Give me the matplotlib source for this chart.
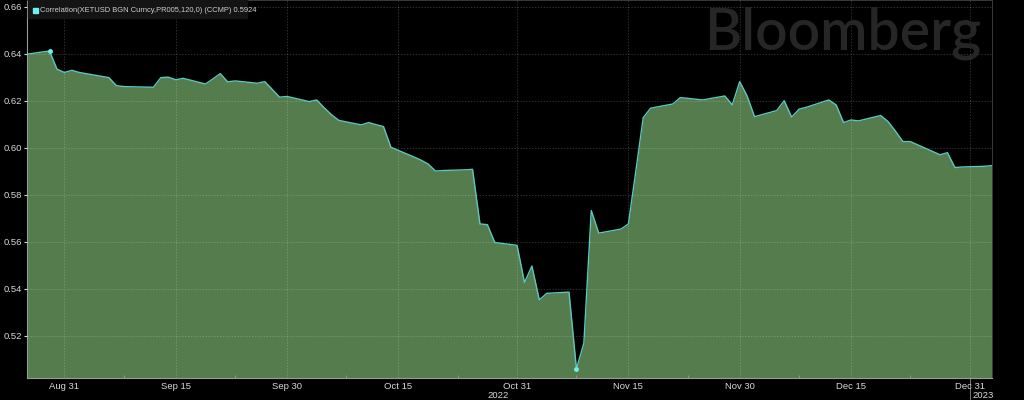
import matplotlib
matplotlib.use("Agg")
import matplotlib.pyplot as plt
import matplotlib.dates as mdates
import numpy as np
import pandas as pd

dates = ["2022-08-26","2022-08-29","2022-08-30","2022-08-31","2022-09-01","2022-09-02",
         "2022-09-06","2022-09-07","2022-09-08","2022-09-09","2022-09-12","2022-09-13",
         "2022-09-14","2022-09-15","2022-09-16","2022-09-19","2022-09-20","2022-09-21",
         "2022-09-22","2022-09-23","2022-09-26","2022-09-27","2022-09-28","2022-09-29",
         "2022-09-30","2022-10-03","2022-10-04","2022-10-05","2022-10-06","2022-10-07",
         "2022-10-10","2022-10-11","2022-10-12","2022-10-13","2022-10-14","2022-10-17",
         "2022-10-18","2022-10-19","2022-10-20","2022-10-21","2022-10-24","2022-10-25",
         "2022-10-26","2022-10-27","2022-10-28","2022-10-31","2022-11-01","2022-11-02",
         "2022-11-03","2022-11-04","2022-11-07","2022-11-08","2022-11-09","2022-11-10",
         "2022-11-11","2022-11-14","2022-11-15","2022-11-16","2022-11-17","2022-11-18",
         "2022-11-21","2022-11-22","2022-11-23","2022-11-25","2022-11-28","2022-11-29",
         "2022-11-30","2022-12-01","2022-12-02","2022-12-05","2022-12-06","2022-12-07",
         "2022-12-08","2022-12-09","2022-12-12","2022-12-13","2022-12-14","2022-12-15",
         "2022-12-16","2022-12-19","2022-12-20","2022-12-21","2022-12-22","2022-12-23",
         "2022-12-27","2022-12-28","2022-12-29","2022-12-30","2023-01-02","2023-01-03"]
values = [0.6398,0.6411,0.6334,0.6320,0.6329,0.6320,
          0.6298,0.6264,0.6260,0.6259,0.6257,0.6298,
          0.6300,0.6289,0.6295,0.6271,0.6292,0.6315,
          0.6280,0.6284,0.6274,0.6281,0.6248,0.6215,
          0.6218,0.6196,0.6203,0.6170,0.6140,0.6116,
          0.6097,0.6107,0.6098,0.6090,0.6002,0.5962,
          0.5948,0.5931,0.5901,0.5903,0.5906,0.5908,
          0.5676,0.5673,0.5597,0.5585,0.5427,0.5497,
          0.5353,0.5381,0.5386,0.5060,0.5169,0.5733,
          0.5637,0.5654,0.5676,0.5900,0.6128,0.6168,
          0.6186,0.6213,0.6210,0.6203,0.6220,0.6182,
          0.6281,0.6220,0.6132,0.6158,0.6200,0.6130,
          0.6164,0.6172,0.6203,0.6182,0.6107,0.6118,
          0.6114,0.6137,0.6111,0.6070,0.6026,0.6026,
          0.5970,0.5979,0.5916,0.5918,0.5921,0.5924]

major_ticks = ["2022-08-31","2022-09-15","2022-09-30","2022-10-15","2022-10-31",
               "2022-11-15","2022-11-30","2022-12-15","2022-12-31"]
major_labels = ["Aug 31","Sep 15","Sep 30","Oct 15","Oct 31","Nov 15","Nov 30","Dec 15","Dec 31"]
minor_ticks = ["2022-09-08","2022-09-23","2022-10-08","2022-10-23","2022-11-08",
               "2022-11-23","2022-12-08","2022-12-23"]
y_ticks = [0.52, 0.54, 0.56, 0.58, 0.60, 0.62, 0.64, 0.66]
legend_text = "Correlation(XETUSD BGN Curncy,PR005,120,0) (CCMP) 0.5924"

x = pd.to_datetime(dates)
y = np.array(values)

fig = plt.figure(figsize=(10.24, 4.0), dpi=100, facecolor="black")
ax = fig.add_axes([27.3/1024, 1-378/400, (992-27.3)/1024, 378/400])
ax.set_facecolor("black")

ymin, ymax = 0.5021, 0.6628
ax.fill_between(x, y, ymin - 0.01, color="#557c4d", lw=0, zorder=1)
ax.plot(x, y, color="#5cc8c2", lw=1.0, zorder=3)
imax = int(np.argmax(y)); imin = int(np.argmin(y))
ax.plot([x[imax], x[imin]], [y[imax], y[imin]], "o", ms=2.5, color="#6ff0f0", zorder=4)

ax.set_xlim(pd.Timestamp("2022-08-26"), pd.Timestamp("2023-01-03"))
ax.set_ylim(ymin, ymax)

ax.set_yticks(y_ticks)
ax.set_yticklabels([f"{v:.2f}" for v in y_ticks])
ax.set_xticks(pd.to_datetime(major_ticks))
ax.set_xticklabels(major_labels)
ax.set_xticks(pd.to_datetime(minor_ticks), minor=True)

fnt = "Liberation Sans"
ax.tick_params(axis="y", colors="#d8d8d8", labelsize=6.8, length=2.5, width=0.8, pad=1)
ax.tick_params(axis="x", which="major", colors="#d8d8d8", labelsize=6.8, length=0, pad=3)
ax.tick_params(axis="x", which="minor", colors="#999999", length=2, width=0.6, direction="in")
for lab in ax.get_xticklabels() + ax.get_yticklabels():
    lab.set_fontfamily(fnt)

ax.grid(True, which="major", color="white", alpha=0.18, lw=0.7, ls=(0, (1.5, 1.5)), zorder=2)
ax.set_axisbelow(False)
for s in ["top", "right"]:
    ax.spines[s].set_color("#3a3a3a")
    ax.spines[s].set_linewidth(0.7)
for s in ["left", "bottom"]:
    ax.spines[s].set_color("#9a9a9a")
    ax.spines[s].set_linewidth(0.8)

# year labels and separator
ax.text(pd.Timestamp("2022-10-28 12:00"), -0.045, "2022", transform=ax.get_xaxis_transform(),
        ha="center", va="center", color="#d8d8d8", fontsize=6.8, family=fnt)
ax.text(pd.Timestamp("2023-01-01 18:00"), -0.045, "2023", transform=ax.get_xaxis_transform(),
        ha="center", va="center", color="#d8d8d8", fontsize=6.8, family=fnt)
ax.plot([pd.Timestamp("2022-12-31")] * 2, [0, -0.07], transform=ax.get_xaxis_transform(),
        color="#777777", lw=0.7, clip_on=False)

# watermark
fig.text(843/1024, 1-33/400, "Bloomberg", ha="center", va="center", color="#262626",
         fontsize=41, family="Lato", fontweight="semibold", zorder=0)

# legend box
fig.patches.append(plt.Rectangle((28/1024, 1-18/400), (247-28)/1024, 18/400,
                                 transform=fig.transFigure, color="#141414", zorder=5))
fig.patches.append(plt.Rectangle((33/1024, 1-12.5/400), 5/1024, 5/400,
                                 transform=fig.transFigure, color="#6ff0f0", zorder=6))
fig.text(40/1024, 1-10/400, legend_text, ha="left", va="center", color="#cfcfcf",
         fontsize=5.4, family=fnt, zorder=7)

fig.savefig("out.png", dpi=100, facecolor="black")
